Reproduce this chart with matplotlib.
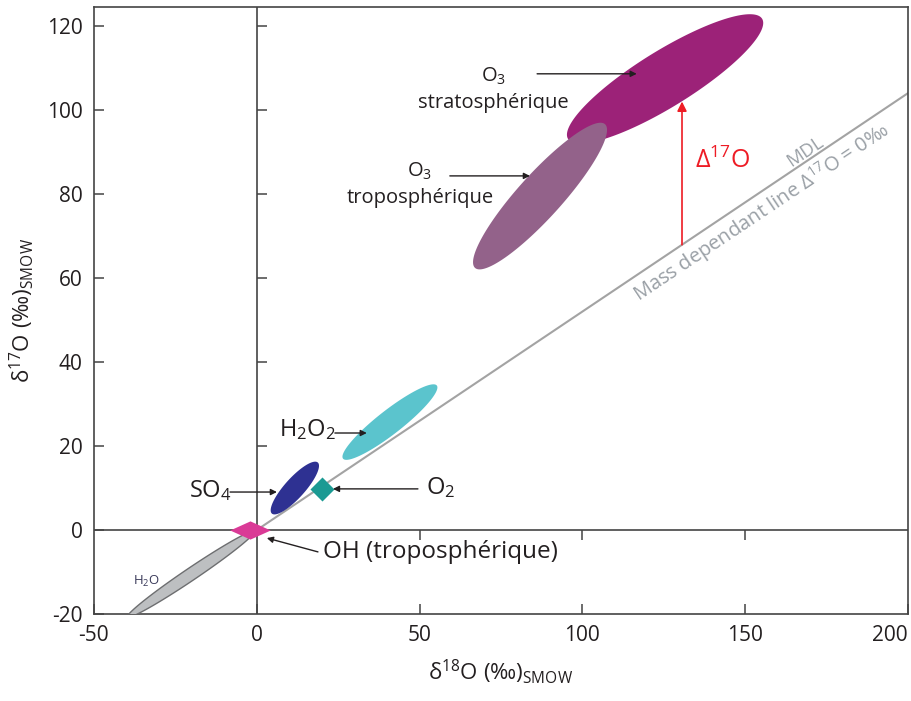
import numpy as np
import matplotlib
matplotlib.use("Agg")
import matplotlib.pyplot as plt
from matplotlib.path import Path

plt.rcParams['font.family'] = ['Open Sans', 'DejaVu Sans']
plt.rcParams['mathtext.default'] = 'regular'
plt.rcParams['axes.unicode_minus'] = False

# ---- data ----
xlim = (-50, 200)
ylim = (-20, 124.5)
xticks = [-50, 0, 50, 100, 150, 200]
yticks = [-20, 0, 20, 40, 60, 80, 100, 120]
mdl_slope = 0.52

# ellipses: name, center x, center y, major half-vector (dx, dy), minor half-vector (dx, dy)
ell_names = ['O3 strato', 'O3 tropo', 'H2O2', 'SO4', 'H2O']
ell_cx = [125.4, 87.0, 40.9, 11.7, -20.2]
ell_cy = [107.4, 79.5, 25.7, 10.0, -10.5]
ell_ax = [29.8, 19.96, 14.4, 7.06, 19.5]
ell_ay = [14.3, 17.1, 8.7, 6.07, 10.2]
ell_bx = [4.5, 5.0, 2.27, 2.28, 1.0]
ell_by = [-5.67, -3.5, -2.26, -1.6, -1.25]
ell_colors = ['#9C2278', '#93628A', '#5BC4CD', '#2E3192', '#BDBFC1']

# diamonds
pt_names = ['O2', 'OH']
pt_x = [20.0, -2.0]
pt_y = [9.8, 0.0]

fig = plt.figure(figsize=(9.12, 7.01), dpi=100)
ax = fig.add_axes([0.103, 0.124, 0.8926, 0.866])
ax.set_xlim(*xlim)
ax.set_ylim(*ylim)

text_col = '#231F20'

# MDL line
xx = np.array(xlim)
ax.plot(xx, mdl_slope * xx, color='#A3A3A3', lw=1.5, zorder=2)

# zero lines
ax.axhline(0, color='#444444', lw=1.2, zorder=1)
ax.axvline(0, color='#444444', lw=1.2, zorder=1)

t = np.linspace(0, 2 * np.pi, 300)
for i, name in enumerate(ell_names):
    ex = ell_cx[i] + ell_ax[i] * np.cos(t) + ell_bx[i] * np.sin(t)
    ey = ell_cy[i] + ell_ay[i] * np.cos(t) + ell_by[i] * np.sin(t)
    if name == 'H2O':
        ax.fill(ex, ey, facecolor=ell_colors[i], edgecolor='#6D6E70', lw=1.0, zorder=3)
    else:
        ax.fill(ex, ey, facecolor=ell_colors[i], edgecolor='none', zorder=3)

# diamonds
flat_diamond = Path([(-1, 0), (0, 0.45), (1, 0), (0, -0.45), (-1, 0)],
                    [Path.MOVETO, Path.LINETO, Path.LINETO, Path.LINETO, Path.CLOSEPOLY])
ax.scatter([pt_x[0]], [pt_y[0]], marker='D', s=150, color='#1B9A93', zorder=4, linewidths=0)
ax.scatter([pt_x[1]], [pt_y[1]], marker=flat_diamond, s=850, color='#DA3A96', zorder=4, linewidths=0)

# ticks & frame
for sp in ax.spines.values():
    sp.set_color('#444444')
    sp.set_linewidth(1.2)
ax.set_xticks(xticks)
ax.set_yticks(yticks)
ax.tick_params(direction='in', length=7, width=1.1, color='#444444',
               labelsize=15, labelcolor=text_col, pad=8)
xtl = ax.get_xticklabels()
xtl[-1].set_horizontalalignment('right')

# overlay axis with spines on the zero lines
ax2 = fig.add_axes(ax.get_position(), frameon=True)
ax2.set_xlim(*xlim)
ax2.set_ylim(*ylim)
ax2.patch.set_visible(False)
for s in ax2.spines.values():
    s.set_visible(False)
ax2.spines['left'].set_position(('data', 0))
ax2.spines['bottom'].set_position(('data', 0))
ax2.set_xticks([50, 100, 150])
ax2.set_yticks([20, 40, 60, 80, 100, 120])
ax2.tick_params(axis='x', direction='out', length=7, width=1.1, color='#444444', labelbottom=False)
ax2.tick_params(axis='y', direction='in', length=7, width=1.1, color='#444444', labelleft=False)

arrow_k = dict(arrowstyle='-|>', color=text_col, lw=1.0, mutation_scale=9, shrinkA=0, shrinkB=0)

# labels with arrows
ax.annotate('', xy=(116.7, 108.6), xytext=(86.1, 108.6), arrowprops=arrow_k, zorder=5)
ax.text(72.6, 105.0, 'O$_3$\nstratosphérique', ha='center', va='center', fontsize=14.5,
        color=text_col, linespacing=1.4)
ax.annotate('', xy=(83.9, 84.3), xytext=(59.3, 84.3), arrowprops=arrow_k, zorder=5)
ax.text(50.1, 82.2, 'O$_3$\ntroposphérique', ha='center', va='center', fontsize=14.5,
        color=text_col, linespacing=1.4)
ax.annotate('', xy=(33.8, 23.1), xytext=(24.0, 23.1), arrowprops=arrow_k, zorder=5)
ax.text(24.2, 24.0, 'H$_2$O$_2$', ha='right', va='center', fontsize=17, color=text_col)
ax.annotate('', xy=(6.2, 9.05), xytext=(-8.2, 9.05), arrowprops=arrow_k, zorder=5)
ax.text(-7.8, 9.3, 'SO$_4$', ha='right', va='center', fontsize=17, color=text_col)
ax.annotate('', xy=(23.4, 9.8), xytext=(49.5, 9.8), arrowprops=arrow_k, zorder=5)
ax.text(52.0, 10.0, 'O$_2$', ha='left', va='center', fontsize=17, color=text_col)
ax.annotate('', xy=(3.1, -1.9), xytext=(18.8, -5.2), arrowprops=arrow_k, zorder=5)
ax.text(20.3, -5.3, 'OH (troposphérique)', ha='left', va='center', fontsize=17.5, color=text_col)
ax.text(-34.0, -12.3, 'H$_2$O', ha='center', va='center', fontsize=9.5, color='#3A3A5A')

# Delta 17O arrow
ax.annotate('', xy=(130.6, 102.0), xytext=(130.6, mdl_slope * 130.6),
            arrowprops=dict(arrowstyle='-|>', color='#EE1C25', lw=1.2, mutation_scale=14,
                            shrinkA=0, shrinkB=0), zorder=5)
ax.text(134.5, 88.0, 'Δ$^{17}$O', ha='left', va='center', fontsize=18, color='#EE1C25')

# MDL texts
ang = 33.8
ax.text(168.3, 90.0, 'MDL', ha='center', va='center', fontsize=13.5, color='#9AA0A6',
        rotation=ang, rotation_mode='anchor')
ax.text(155.0, 75.6, 'Mass dependant line Δ$^{17}$O = 0‰', ha='center', va='center',
        fontsize=14.5, color='#9AA0A6', rotation=ang, rotation_mode='anchor')

ax.set_xlabel('δ$^{18}$O (‰)$_{SMOW}$', fontsize=16, color=text_col, labelpad=8)
ax.set_ylabel('δ$^{17}$O (‰)$_{SMOW}$', fontsize=16, color=text_col, labelpad=8)

fig.savefig('out.png', dpi=100)
